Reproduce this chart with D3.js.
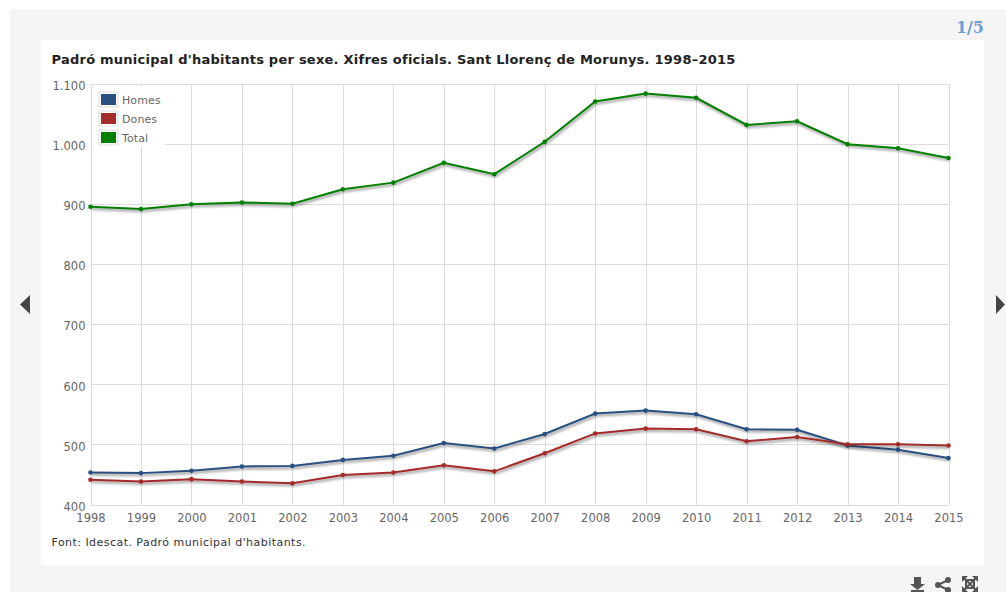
<!DOCTYPE html>
<html><head><meta charset="utf-8">
<script src="https://cdn.jsdelivr.net/npm/d3@7"></script>
<style>html,body{margin:0;padding:0;background:#fff;overflow:hidden}svg{display:block}text{font-family:"DejaVu Sans",sans-serif}</style>
</head><body><svg id="c" width="1006" height="592"></svg>
<script>
const years=[1998,1999,2000,2001,2002,2003,2004,2005,2006,2007,2008,2009,2010,2011,2012,2013,2014,2015];
const homes=[454,453,457,464,465,475,482,503,494,518,552,557,551,526,525,499,492,478];
const dones=[442,439,443,439,436,450,454,466,456,486,519,527,526,506,513,501,501,499];
const total=[896,892,900,903,901,925,936,969,950,1004,1071,1084,1077,1032,1038,1000,993,977];
const yTicks=[400,500,600,700,800,900,1000,1100];
const seriesNames=["Homes","Dones","Total"];
const seriesColors=["#2a5082","#a52a2a","#008000"];
const seriesValues=[homes,dones,total];
const titleText="Padró municipal d'habitants per sexe. Xifres oficials. Sant Llorenç de Morunys. 1998–2015";
const sourceText="Font: Idescat. Padró municipal d'habitants.";
const fmt=v=>d3.format(",")(v).replace(",",".");

const svg=d3.select("#c");
const defs=svg.append("defs");
defs.append("filter").attr("id","soft").attr("x","-5%").attr("y","-30%").attr("width","110%").attr("height","160%")
  .append("feGaussianBlur").attr("stdDeviation",1.2);
svg.append("rect").attr("x",10).attr("y",9).attr("width",996).attr("height",583).attr("fill","#f5f5f5");
svg.append("rect").attr("x",41).attr("y",40).attr("width",943).attr("height",525).attr("fill","#fff");
svg.append("text").attr("x",984).attr("y",33).attr("text-anchor","end").attr("fill","#6d9fd3")
  .style("font-family","'DejaVu Serif',serif").style("font-weight","bold").style("font-size","16px").text("1/5");
svg.append("text").attr("x",51.5).attr("y",64).attr("fill","#222").style("font-weight","bold").style("font-size","13px").style("letter-spacing","0.24px").text(titleText);

const x=d3.scaleLinear().domain([1998,2015]).range([90.5,948.5]);
const y=d3.scaleLinear().domain([400,1100]).range([505,84]);
const grid=svg.append("g").attr("stroke","#dcdcdc").attr("stroke-width",1);
grid.selectAll(".h").data(yTicks).join("line").attr("x1",x(1998)).attr("x2",x(2015)).attr("y1",d=>Math.floor(y(d))+.5).attr("y2",d=>Math.floor(y(d))+.5);
grid.selectAll(".v").data(years).join("line").attr("x1",d=>Math.round(x(d))+.5).attr("x2",d=>Math.round(x(d))+.5).attr("y1",y(1100)).attr("y2",y(400));

const axY=svg.append("g").attr("transform",`translate(${x(1998)},0)`).call(d3.axisLeft(y).tickValues(yTicks).tickFormat(fmt).tickSize(0).tickPadding(5));
axY.select(".domain").remove();
axY.selectAll("text").attr("fill","#666").style("font-size","11.5px").attr("dy","0.46em");
const axX=svg.append("g").attr("transform",`translate(0,${y(400)})`).call(d3.axisBottom(x).tickValues(years).tickFormat(d3.format("d")).tickSize(0).tickPadding(8.5));
axX.select(".domain").remove();
axX.selectAll("text").attr("fill","#666").style("font-size","11.5px");

const line=d3.line().x((d,i)=>x(years[i])).y(d=>y(d));
const s=svg.append("g").selectAll("g").data(seriesValues).join("g");
s.append("path").attr("d",line).attr("fill","none").attr("stroke","#000").attr("stroke-opacity",.3).attr("stroke-width",3).attr("transform","translate(1,2)").attr("filter","url(#soft)");
s.append("path").attr("d",line).attr("fill","none").attr("stroke",(d,i)=>seriesColors[i]).attr("stroke-width",2);
s.each(function(vals,i){
  d3.select(this).selectAll("circle").data(vals).join("circle").attr("cx",(d,j)=>x(years[j])).attr("cy",d=>y(d)).attr("r",2.3).attr("fill",seriesColors[i]);
});

// legend
const lg=svg.append("g");
lg.append("rect").attr("x",93).attr("y",87).attr("width",72).attr("height",59).attr("fill","#fff");
const rows=lg.selectAll("g").data(seriesNames).join("g").attr("transform",(d,i)=>`translate(99,${92+i*19})`);
rows.append("rect").attr("width",19).attr("height",15).attr("fill","#fff").attr("stroke","#ddd");
rows.append("rect").attr("x",2).attr("y",2).attr("width",15).attr("height",11).attr("fill",(d,i)=>seriesColors[i]);
rows.append("text").attr("x",23).attr("y",12).attr("fill","#666").style("font-size","11px").style("letter-spacing","0.1px").text(d=>d);

svg.append("text").attr("x",51.5).attr("y",546).attr("fill","#333").style("font-size","11px").style("letter-spacing","0.46px").text(sourceText);

// carousel arrows
svg.append("path").attr("d","M30 295V314L20 304.5Z").attr("fill","#444");
svg.append("path").attr("d","M996 295V314L1005 304.5Z").attr("fill","#444");
// toolbar icons
const ic=svg.append("g").attr("fill","#555").attr("stroke","#555");
ic.append("path").attr("stroke","none").attr("d","M914 577H921V584H925L917.5 590L910 584H914ZM911 590H924V592H911Z");
ic.append("path").attr("fill","none").attr("stroke-width",2).attr("d","M948 580L938 585L948 590");
ic.selectAll("circle").data([[948,580],[938,585],[948,590]]).join("circle").attr("stroke","none").attr("cx",d=>d[0]).attr("cy",d=>d[1]).attr("r",3);
ic.append("path").attr("fill","none").attr("stroke-width",2).attr("d","M963 577L977 591M977 577L963 591");
ic.append("rect").attr("x",966).attr("y",580).attr("width",8).attr("height",8).attr("fill","none").attr("stroke-width",2);
ic.append("path").attr("stroke","none").attr("d","M962 576H968L962 582ZM978 576V582L972 576ZM962 592V586L968 592ZM978 592H972L978 586Z");
</script></body></html>
